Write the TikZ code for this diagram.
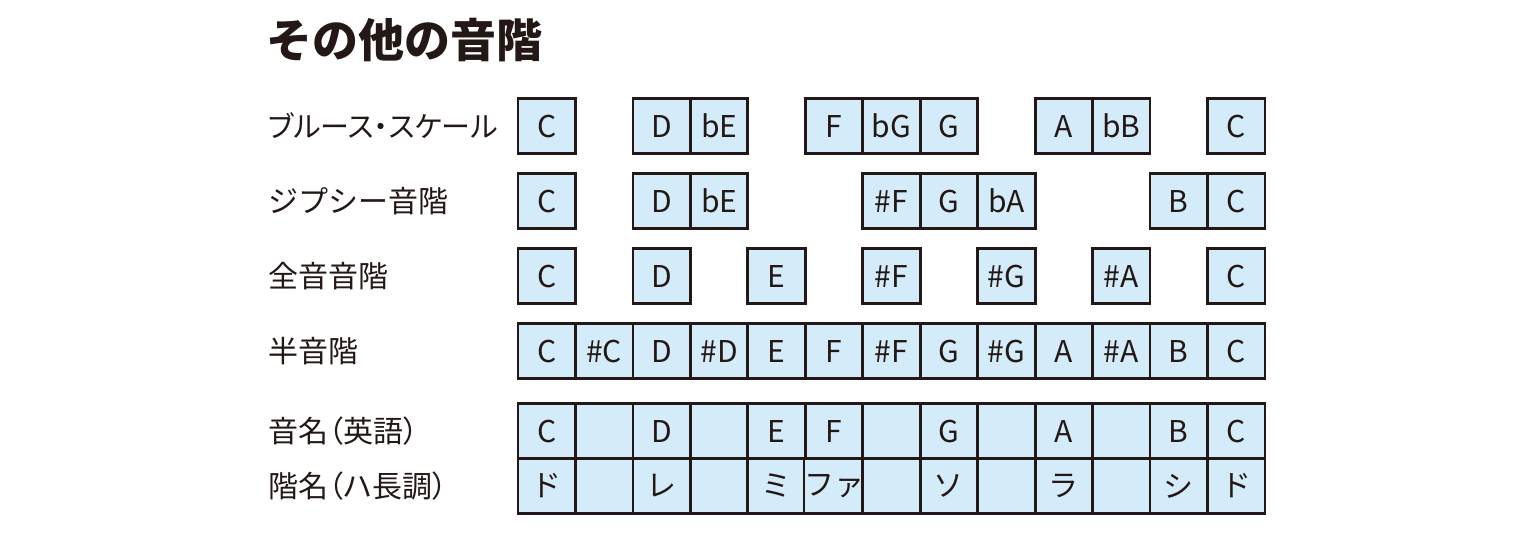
\documentclass[tikz,border=0pt]{standalone}
\usepackage{fontspec}
\setmainfont{Noto Sans CJK JP}
\newfontfamily\jpprop[RawFeature=+palt]{Noto Sans CJK JP}
\usetikzlibrary{positioning}
\definecolor{keyblue}{RGB}{212,236,250}
\definecolor{ink}{RGB}{35,24,21}

\begin{document}
\begin{tikzpicture}[x=0.5pt,y=-0.5pt]
\tikzstyle{cell}=[draw=ink, line width=1.4pt, fill=keyblue,
                  minimum width=28.73pt, minimum height=27.75pt,
                  inner sep=0pt, text=ink, font=\fontsize{15}{15}\selectfont]
\tikzstyle{rowname}=[anchor=west, inner sep=0pt, text=ink,
                     font=\fontsize{15}{15}\selectfont]
\useasboundingbox (0,0) rectangle (1536,537);
\node[anchor=west, inner sep=0pt, text=ink,
      font=\fontsize{23}{23}\selectfont\bfseries] (title) at (266,40) {その他の音階};
% row names
\node[rowname, font=\fontsize{14.5}{15}\selectfont] (blues) at (268,126) {\jpprop ブルース・スケール};
\node[rowname] (gypsy) at (268,201) {ジプシー音階};
\node[rowname] (whole) at (268,276) {全音音階};
\node[rowname] (chrom) at (268,351) {半音階};
\node[rowname] (eng)   at (268,431) {\jpprop 音名（英語）};
\node[rowname] (solf)  at (268,486) {\jpprop 階名（ハ長調）};
% scales
\foreach \c/\t in {0/C,2/D,3/bE,5/F,6/bG,7/G,9/A,10/bB,12/C}
  \node[cell] (blues-\c) at ({518+57.46*(\c+0.5)},126) {\t};
\foreach \c/\t in {0/C,2/D,3/bE,6/\#F,7/G,8/bA,11/B,12/C}
  \node[cell] (gypsy-\c) at ({518+57.46*(\c+0.5)},201) {\t};
\foreach \c/\t in {0/C,2/D,4/E,6/\#F,8/\#G,10/\#A,12/C}
  \node[cell] (whole-\c) at ({518+57.46*(\c+0.5)},276) {\t};
\foreach \c/\t in {0/C,1/\#C,2/D,3/\#D,4/E,5/F,6/\#F,7/G,8/\#G,9/A,10/\#A,11/B,12/C}
  \node[cell] (chrom-\c) at ({518+57.46*(\c+0.5)},351) {\t};
% note names
\foreach \c/\t in {0/C,1/,2/D,3/,4/E,5/F,6/,7/G,8/,9/A,10/,11/B,12/C}
  \node[cell] (eng-\c) at ({518+57.46*(\c+0.5)},431) {\t};
\foreach \c/\t in {0/ド,1/,2/レ,3/,4/ミ,5/ファ,6/,7/ソ,8/,9/ラ,10/,11/シ,12/ド}
  \node[cell] (solf-\c) at ({518+57.46*(\c+0.5)},486) {\t};
\end{tikzpicture}
\end{document}
